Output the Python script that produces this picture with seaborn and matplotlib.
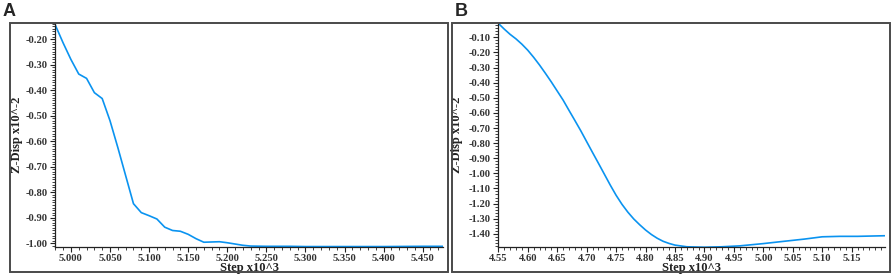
import numpy as np
import pandas as pd
import matplotlib
matplotlib.use("Agg")
import matplotlib.pyplot as plt
from matplotlib.patches import Rectangle
from matplotlib.ticker import MultipleLocator, FormatStrFormatter
import seaborn as sns

# ---------------- data ----------------
step_a = [4.980, 4.990, 5.000, 5.010, 5.020, 5.030, 5.040, 5.050, 5.060, 5.070,
          5.080, 5.090, 5.100, 5.110, 5.120, 5.130, 5.140, 5.150, 5.160, 5.170,
          5.180, 5.190, 5.200, 5.210, 5.220, 5.230, 5.250, 5.280, 5.300, 5.350,
          5.400, 5.450, 5.476]
zdisp_a = [-0.145, -0.215, -0.280, -0.337, -0.354, -0.410, -0.433, -0.520, -0.625, -0.735,
           -0.845, -0.880, -0.892, -0.905, -0.937, -0.950, -0.953, -0.965, -0.982, -0.996,
           -0.995, -0.994, -0.998, -1.003, -1.008, -1.011, -1.012, -1.012, -1.013, -1.013,
           -1.013, -1.012, -1.012]

step_b = [4.550, 4.560, 4.570, 4.580, 4.590, 4.600, 4.610, 4.620, 4.630, 4.640,
          4.650, 4.660, 4.670, 4.680, 4.690, 4.700, 4.710, 4.720, 4.730, 4.740,
          4.750, 4.760, 4.770, 4.780, 4.790, 4.800, 4.810, 4.820, 4.830, 4.840,
          4.850, 4.870, 4.900, 4.930, 4.960, 5.000, 5.030, 5.070, 5.100, 5.130,
          5.160, 5.206]
zdisp_b = [-0.007, -0.045, -0.080, -0.110, -0.145, -0.185, -0.232, -0.283, -0.338, -0.395,
           -0.455, -0.515, -0.583, -0.650, -0.718, -0.790, -0.862, -0.933, -1.005, -1.077,
           -1.145, -1.205, -1.257, -1.302, -1.340, -1.375, -1.405, -1.430, -1.450, -1.464,
           -1.475, -1.486, -1.489, -1.486, -1.480, -1.465, -1.452, -1.435, -1.420, -1.417,
           -1.417, -1.413]

xticks_a = [5.000, 5.050, 5.100, 5.150, 5.200, 5.250, 5.300, 5.350, 5.400, 5.450]
yticks_a = [-0.20, -0.30, -0.40, -0.50, -0.60, -0.70, -0.80, -0.90, -1.00]
xticks_b = [4.55, 4.60, 4.65, 4.70, 4.75, 4.80, 4.85, 4.90, 4.95, 5.00, 5.05, 5.10, 5.15]
yticks_b = [-0.10, -0.20, -0.30, -0.40, -0.50, -0.60, -0.70, -0.80, -0.90, -1.00,
            -1.10, -1.20, -1.30, -1.40]

xlabel = "Step x10^3"
ylabel = "Z-Disp x10^-2"
panel_labels = ["A", "B"]

df_a = pd.DataFrame({"step": step_a, "zdisp": zdisp_a})
df_b = pd.DataFrame({"step": step_b, "zdisp": zdisp_b})

# ---------------- style ----------------
sns.set_style("ticks")
plt.rcParams["axes.unicode_minus"] = False
plt.rcParams["font.family"] = ["Liberation Serif", "DejaVu Serif"]

W, H = 892, 275
fig = plt.figure(figsize=(W / 100, H / 100), dpi=100)

LINE = "#0A93F0"
FRAME = "#4a4a4a"


def px_axes(left, top, right, bottom):
    return fig.add_axes([left / W, 1 - bottom / H, (right - left) / W, (bottom - top) / H])


def frame(left, top, right, bottom):
    fig.patches.append(Rectangle((left / W, 1 - bottom / H), (right - left) / W, (bottom - top) / H,
                                 transform=fig.transFigure, fill=False, edgecolor=FRAME,
                                 linewidth=1.4, zorder=10))


frame(10, 23, 448, 272)
frame(452, 23, 890, 272)

specs = [
    dict(df=df_a, box=(55.3, 23, 443, 246.7), xlim=(4.980, 5.476), ylim=(-1.0135, -0.137),
         xt=xticks_a, yt=yticks_a, xfmt="%.3f", xminor=0.01, yminor=0.01, ylx=17),
    dict(df=df_b, box=(498.3, 23, 885, 247.3), xlim=(4.550, 5.2066), ylim=(-1.4895, -0.005),
         xt=xticks_b, yt=yticks_b, xfmt="%.2f", xminor=0.01, yminor=0.02, ylx=457),
]

for i, s in enumerate(specs):
    l, t, r, b = s["box"]
    ax = px_axes(l, t, r, b)
    sns.lineplot(data=s["df"], x="step", y="zdisp", ax=ax, color=LINE, linewidth=1.2)
    ax.set_xlim(*s["xlim"])
    ax.set_ylim(*s["ylim"])
    ax.set_xticks(s["xt"])
    ax.set_yticks(s["yt"])
    ax.xaxis.set_major_formatter(FormatStrFormatter(s["xfmt"]))
    ax.yaxis.set_major_formatter(FormatStrFormatter("%.2f"))
    ax.xaxis.set_minor_locator(MultipleLocator(s["xminor"]))
    ax.yaxis.set_minor_locator(MultipleLocator(s["yminor"]))
    ax.tick_params(which="major", direction="out", length=3.5, width=0.8, labelsize=7.6,
                   colors="#222222", pad=2)
    ax.tick_params(axis="x", which="major", pad=1.5)
    ax.tick_params(which="minor", direction="out", length=2, width=0.6, colors="#222222")
    for lab in ax.get_xticklabels() + ax.get_yticklabels():
        lab.set_fontweight("bold")
        lab.set_color("#333333")
    sns.despine(ax=ax, top=True, right=True)
    for sp in ("left", "bottom"):
        ax.spines[sp].set_linewidth(0.9)
        ax.spines[sp].set_color("#222222")
    ax.set_xlabel(xlabel, fontsize=9, fontweight="bold", color="#222222")
    ax.set_ylabel(ylabel, fontsize=9, fontweight="bold", color="#222222")
    axw = r - l
    axh = b - t
    ax.xaxis.set_label_coords(0.5, -(268.3 - b) / axh)
    ax.xaxis.label.set_va("center")
    ax.yaxis.set_label_coords(-(l - s["ylx"]) / axw, 0.5)
    ax.yaxis.label.set_va("center")
    ax.patch.set_alpha(0)

fig.text(3 / W, 1 - 12 / H, panel_labels[0], fontsize=13, fontweight="bold",
         family=["Liberation Sans", "DejaVu Sans"], va="center", ha="left")
fig.text(455 / W, 1 - 12 / H, panel_labels[1], fontsize=13, fontweight="bold",
         family=["Liberation Sans", "DejaVu Sans"], va="center", ha="left")

fig.savefig("out.png", dpi=100, facecolor="white")
